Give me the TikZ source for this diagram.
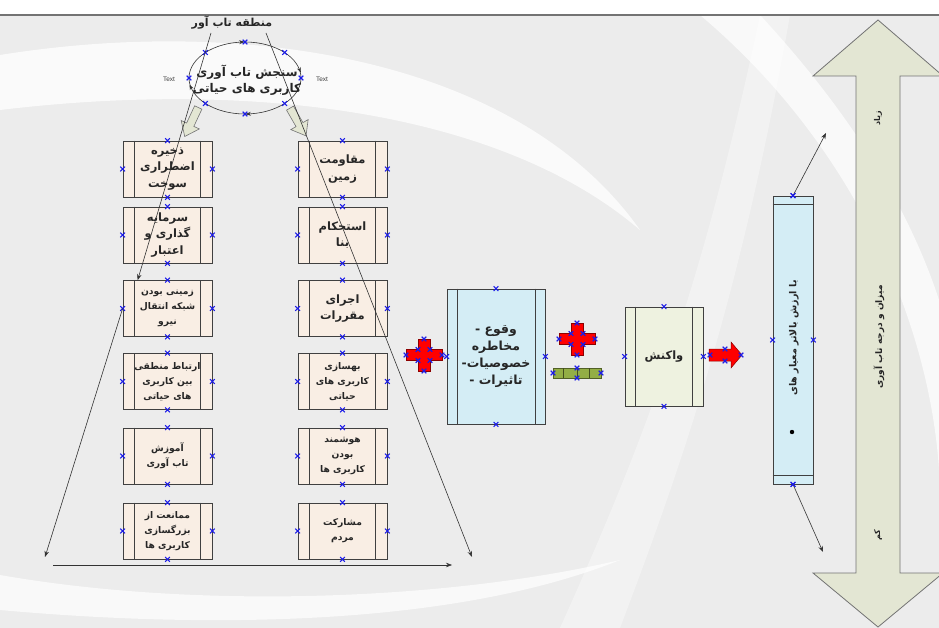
\documentclass[tikz,border=0pt]{standalone}
\usepackage{fontspec}
\usetikzlibrary{arrows.meta,shapes.misc,decorations.markings}
\TeXXeTstate=1
\newfontfamily\fa[Script=Arabic]{DejaVu Sans}
\newfontfamily\arial{Liberation Sans}
\newcommand\rl[1]{\beginR #1\endR}

\definecolor{bggray}{HTML}{ECECEC}
\definecolor{peach}{HTML}{F9EEE4}
\definecolor{lblue}{HTML}{D4EDF5}
\definecolor{lgreen}{HTML}{EEF2E0}
\definecolor{sage}{HTML}{E3E6D3}
\definecolor{olivebar}{HTML}{93AE45}
\definecolor{hblue}{HTML}{1C1CE8}

% inner frame lines and selection handles of a card
\newcommand\cardlines[2]{%
  \draw[edge] ([xshift=#2]#1.north west) -- ([xshift=#2]#1.south west);
  \draw[edge] ([xshift=-#2]#1.north east) -- ([xshift=-#2]#1.south east);
  \foreach \a in {north,south,east,west} \node[hdl] at (#1.\a) {};}

\tikzset{
  edge/.style={draw=black!75, line width=0.7},
  card/.style={edge, fill=peach, minimum width=89, minimum height=56, inner sep=0,
    align=center, text=black!85},
  big/.style={font=\fa\bfseries\fontsize{11.5}{16.5}\selectfont},
  small/.style={font=\fa\bfseries\fontsize{9.2}{15}\selectfont},
  hdl/.style={cross out, draw=hblue, line width=1.1, minimum size=3.6, inner sep=0},
  link/.style={draw=black!80, line width=0.6},
  tip/.style={-{Stealth[length=6pt,width=4.5pt]}},
  redcross/.pic={
    \draw[fill=red, draw=red!55!black, line width=0.5]
      (-6,-16) -- (6,-16) -- (6,-5.5) -- (18,-5.5) -- (18,5.5) -- (6,5.5) --
      (6,16) -- (-6,16) -- (-6,5.5) -- (-18,5.5) -- (-18,-5.5) -- (-6,-5.5) -- cycle;
    \foreach \p in {(0,-16),(0,16),(-18,0),(18,0),(-6,-5.5),(6,-5.5),(-6,5.5),(6,5.5)}
      \node[hdl] at \p {};},
  hollowarrow/.pic={
    \draw[fill=sage, draw=black!55, line width=0.6]
      (-16,-4) -- (3,-4) -- (3,-10) -- (16,0) -- (3,10) -- (3,4) -- (-16,4) -- cycle;}
}

\begin{document}
\begin{tikzpicture}[x=1pt,y=-1pt]
\useasboundingbox (0,0) rectangle (939,628);

% page background with soft white sweeps
\fill[white] (0,0) rectangle (939,628);
\fill[bggray] (0,15) rectangle (939,628);
\begin{scope}
\clip (0,15) rectangle (939,628);
\fill[white, opacity=0.75] (0,55) .. controls (250,15) and (520,60) .. (640,230)
  .. controls (500,110) and (250,80) .. (0,110) -- cycle;
\fill[white, opacity=0.7] (700,15) .. controls (860,150) and (930,330) .. (939,470)
  -- (939,300) .. controls (900,180) and (820,80) .. (760,15) -- cycle;
\fill[white, opacity=0.7] (0,575) .. controls (200,610) and (450,600) .. (620,560)
  .. controls (450,628) and (200,628) .. (0,610) -- cycle;
\fill[white, opacity=0.35] (560,628) .. controls (640,450) and (700,300) .. (760,15)
  -- (790,15) .. controls (740,300) and (680,470) .. (620,628) -- cycle;
\end{scope}
\draw[black!55, line width=1.6] (0,15) -- (939,15);

% resilience cycle at the top
\node[font=\fa\bfseries\fontsize{11}{12}\selectfont, text=black!85] (title) at (232,23) {\rl{منطقه تاب آور}};
\coordinate (cyc) at (245,78);
\draw[link, postaction={decorate}, decoration={markings,
    mark=at position 0.036 with {\arrow{Stealth[reversed,length=5pt,width=4pt]}},
    mark=at position 0.27 with {\arrow{Stealth[reversed,length=5pt,width=4pt]}},
    mark=at position 0.54 with {\arrow{Stealth[reversed,length=5pt,width=4pt]}},
    mark=at position 0.77 with {\arrow{Stealth[reversed,length=5pt,width=4pt]}}}]
  (cyc) ellipse [x radius=56pt, y radius=36pt];
\foreach \p in {(301,78),(189,78),(245,42),(245,114),(284.6,52.5),(205.4,52.5),(284.6,103.5),(205.4,103.5)}
  \node[hdl] at \p {};
\node[align=center, font=\fa\bfseries\fontsize{12}{16}\selectfont, text=black!85] (cyctxt) at (247,80)
  {\rl{سنجش تاب آوری}\\\rl{کاربری های حیاتی}};
\node[font=\arial\fontsize{6.5}{7}\selectfont, text=black!75] (tleft) at (169,79) {Text};
\node[font=\arial\fontsize{6.5}{7}\selectfont, text=black!75] (tright) at (322,79) {Text};

\pic[rotate=-115] at (191.5,122) {hollowarrow};
\pic[rotate=-60] at (298,122) {hollowarrow};

% left column of cards
\node[card, big] (l1) at (167.5,169) {\rl{ذخیره}\\\rl{اضطراری}\\\rl{سوخت}};
\node[card, big] (l2) at (167.5,235) {\rl{سرمایه}\\\rl{گذاری و}\\\rl{اعتبار}};
\node[card, small] (l3) at (167.5,308.5) {\rl{زمینی بودن}\\\rl{شبکه انتقال}\\\rl{نیرو}};
\node[card, small] (l4) at (167.5,381.5) {\rl{ارتباط منطقی}\\\rl{بین کاربری}\\\rl{های حیاتی}};
\node[card, small] (l5) at (167.5,456) {\rl{آموزش}\\\rl{تاب آوری}};
\node[card, small] (l6) at (167.5,531) {\rl{ممانعت از}\\\rl{بزرگسازی}\\\rl{کاربری ها}};

% right column of cards
\node[card, big] (r1) at (342.5,169) {\rl{مقاومت}\\\rl{زمین}};
\node[card, big] (r2) at (342.5,235) {\rl{استحکام}\\\rl{بنا}};
\node[card, big] (r3) at (342.5,308.5) {\rl{اجرای}\\\rl{مقررات}};
\node[card, small] (r4) at (342.5,381.5) {\rl{بهسازی}\\\rl{کاربری های}\\\rl{حیاتی}};
\node[card, small] (r5) at (342.5,456) {\rl{هوشمند}\\\rl{بودن}\\\rl{کاربری ها}};
\node[card, small] (r6) at (342.5,531) {\rl{مشارکت}\\\rl{مردم}};

\foreach \n in {l1,l2,l3,l4,l5,l6,r1,r2,r3,r4,r5,r6} {\cardlines{\n}{12}}

% hazard card, crosses and response card
\node[card, fill=lblue, minimum width=98, minimum height=135,
  font=\fa\bfseries\fontsize{12.5}{17}\selectfont] (haz) at (496,356.5)
  {- \rl{وقوع}\\\rl{مخاطره}\\-\rl{خصوصیات}\\- \rl{تاثیرات}};
\cardlines{haz}{10.5}

\pic at (424,355) {redcross};
\pic at (577,339) {redcross};

\node[draw=olivebar!55!black, fill=olivebar, line width=0.6, minimum width=48,
  minimum height=10, inner sep=0] (bar) at (577,373) {};
\foreach \xx in {563,577,589} \draw[olivebar!45!black, line width=0.6] (\xx,368) -- (\xx,378);
\foreach \p in {(553,373),(601,373),(577,368),(577,378)} \node[hdl] at \p {};

\node[card, fill=lgreen, minimum width=78, minimum height=99,
  font=\fa\bfseries\fontsize{11.5}{14}\selectfont] (act) at (664,356.5) {\rl{واکنش}};
\cardlines{act}{11}

\draw[fill=red, draw=red!55!black, line width=0.5]
  (709,349) -- (731,349) -- (731,342) -- (742,355) -- (731,368) -- (731,361) -- (709,361) -- cycle;
\foreach \p in {(710,355),(725,349),(725,361),(741,355)} \node[hdl] at \p {};

% criterion bar
\node[edge, fill=lblue, minimum width=40, minimum height=288, inner sep=0] (crit) at (793,340) {};
\draw[edge] ([yshift=-9]crit.north west) -- ([yshift=-9]crit.north east);
\draw[edge] ([yshift=9]crit.south west) -- ([yshift=9]crit.south east);
\node[rotate=90, font=\fa\bfseries\fontsize{9.6}{11}\selectfont, text=black!85] (crittxt) at (794,338)
  {\rl{با ارزش بالاتر معیار های}};
\fill[black] (792,432) circle (2.2);
\foreach \a in {north,south,east,west} \node[hdl] at (crit.\a) {};

% resilience scale
\draw[fill=sage, draw=black!55, line width=0.8]
  (878,20) -- (943,76) -- (900,76) -- (900,573) -- (943,573) -- (878,627) --
  (813,573) -- (856,573) -- (856,76) -- (813,76) -- cycle;
\node[rotate=90, font=\fa\bfseries\fontsize{8}{9}\selectfont, text=black!85] (high) at (878,118) {\rl{زیاد}};
\node[rotate=90, font=\fa\bfseries\fontsize{9}{10}\selectfont, text=black!85] (scale) at (879,337) {\rl{میزان و درجه تاب آوری}};
\node[rotate=90, font=\fa\bfseries\fontsize{8}{9}\selectfont, text=black!85] (low) at (878,535) {\rl{کم}};

% connectors
\coordinate (ta) at (211,33);
\coordinate (tb) at (266,33);
\coordinate (bl) at (45,557);
\coordinate (br) at (472,557);
\coordinate (hl) at (53,565);
\coordinate (hr) at (452,565);
\coordinate (hi) at (826,133);
\coordinate (lo) at (823,552);
\draw[link, tip] (ta) -- ([xshift=15]l3.north west);
\draw[link, tip] (l3.west) -- (bl);
\draw[link, tip] (tb) -- (br);
\draw[link, tip] (hl) -- (hr);
\draw[link, tip] (crit.north) -- (hi);
\draw[link, tip] (crit.south) -- (lo);
\node[hdl] at (crit.north) {};
\node[hdl] at (crit.south) {};
\end{tikzpicture}
\end{document}
